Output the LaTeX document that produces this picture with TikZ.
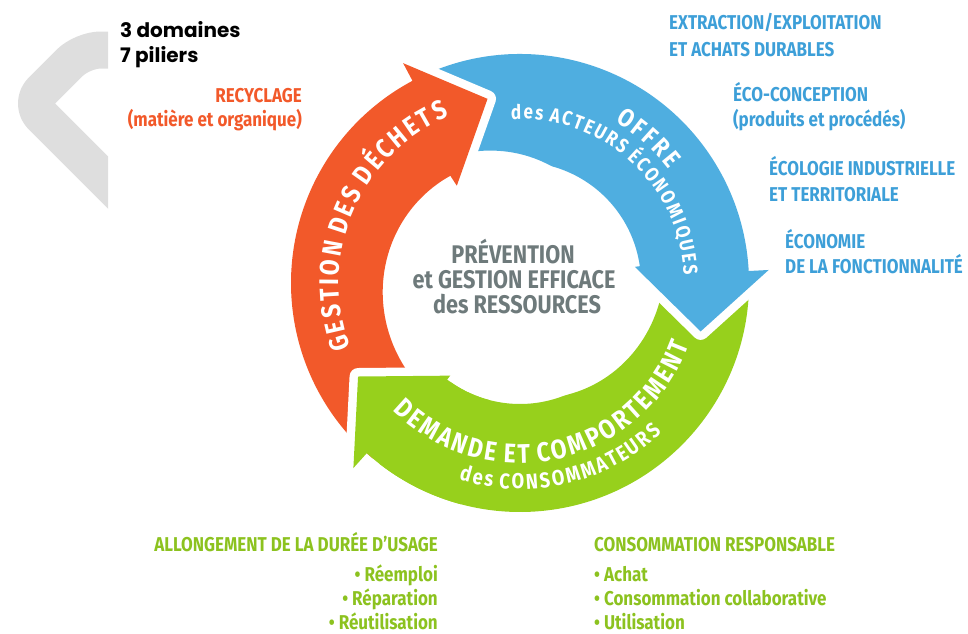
\documentclass[tikz,border=0pt]{standalone}
\usepackage{fontspec}
\usetikzlibrary{decorations.text}
\newfontfamily\cond{Fira Sans}[FakeStretch=0.85]
\newfontfamily\popp{Poppins}
\definecolor{corange}{HTML}{F2592A}
\definecolor{cblue}{HTML}{4FAEE0}
\definecolor{cgreen}{HTML}{97D01C}
\definecolor{tblue}{HTML}{3D9FD8}
\definecolor{tgreen}{HTML}{8CC21F}
\definecolor{tgray}{HTML}{6E7A7B}
\definecolor{chev}{HTML}{DEDEDE}
\newcommand{\ka}{\kern2.7pt}
\newcommand{\kb}{\kern2.6pt}
\newcommand{\kc}{\kern2.0pt}
\newcommand{\kd}{\kern2.55pt}
\newcommand{\ke}{\kern2.2pt}
% #1 tail angle, #2 outer barb angle, #3 inner barb angle, #4 tip angle, #5 decay span
\newcommand{\arrowpath}[5]{(#1:229) arc[start angle=#1, end angle=#2, radius=229] -- (#2:249) -- (#4:187) -- (#3:116) -- plot[domain=#3:#1, samples=60] (\x:{121+24*max(0,1-(#1-\x)/#5)}) -- cycle}
\begin{document}
\begin{tikzpicture}[x=1pt,y=1pt,
  halo/.style={draw=white, fill=white, line width=17pt, line join=round},
  haloline/.style={draw=white, line width=17pt, line join=round},
  lbl/.style={inner sep=0pt, font=\cond\bfseries\fontsize{20}{24}\selectfont},
  olbl/.style={lbl, text=corange, anchor=base east},
  blbl/.style={lbl, text=tblue, anchor=base west},
  glbl/.style={lbl, text=tgreen},
  ctext/.style={inner sep=0pt, anchor=base, text=tgray, font=\cond\bfseries\fontsize{25.5}{28}\selectfont},
  ptext/.style={inner sep=0pt, anchor=base west, text=black, font=\popp\bfseries\fontsize{20}{24}\selectfont}]
\useasboundingbox (0,0) rectangle (968,-633);

% grey chevron
\begin{scope}
  \clip (0,0) rectangle (108,-633);
  \draw[chev, line width=37pt, line join=round, rounded corners=18pt]
    (130,-50) -- (82.5,-50) -- (29,-103.5) -- (135,-209.5);
\end{scope}

\node[ptext] (dom) at (120,-37) {3 domaines};
\node[ptext] (pil) at (120,-62) {7 piliers};

% cycle arrows
\begin{scope}[shift={(520,-283)}]
  \path[halo] \arrowpath{5}{-132}{-127}{-150}{73};
  \fill[cgreen] \arrowpath{5}{-132}{-127}{-150}{73};
  \path[halo] \arrowpath{120}{3}{8}{-15}{45};
  \fill[cblue] \arrowpath{120}{3}{8}{-15}{45};
  \path[halo] \arrowpath{230}{118}{123}{100}{150};
  \fill[corange] \arrowpath{230}{118}{123}{100}{150};
  % green head back on top of the orange tail
  \begin{scope}
    \clip (0,0) -- (190:330) arc[start angle=190, end angle=255, radius=330] -- cycle;
    \path[haloline] (-132:249) -- (-150:187) -- (-127:116);
    \fill[cgreen] \arrowpath{5}{-132}{-127}{-150}{73};
  \end{scope}

  % texts on the arrows
  \path[decorate, decoration={text along path, text color=white, text align=center,
      text={|\cond\bfseries\fontsize{27}{27}\selectfont|{G\ka}{E\ka}{S\ka}{T\ka}{I\ka}{O\ka}{N\ka} {D\ka}{E\ka}{S\ka} {D\ka}{É\ka}{C\ka}{H\ka}{E\ka}{T\ka}{S}}}]
    (212:181) arc[start angle=212, end angle=102, radius=181];
  \path[decorate, decoration={text along path, text color=white, text align=center,
      text={|\cond\bfseries\fontsize{25.5}{25.5}\selectfont|{O\kb}{F\kb}{F\kb}{R\kb}{E}}}]
    (68.5:187) arc[start angle=68.5, end angle=28.5, radius=187];
  \path[decorate, decoration={text along path, text color=white, text align=center,
      text={|\cond\bfseries\fontsize{20}{20}\selectfont|{d\kc}{e\kc}{s\kc} {A\kc}{C\kc}{T\kc}{E\kc}{U\kc}{R\kc}{S\kc} {É\kc}{C\kc}{O\kc}{N\kc}{O\kc}{M\kc}{I\kc}{Q\kc}{U\kc}{E\kc}{S}}}]
    (98:164) arc[start angle=98, end angle=-2, radius=164];
  \path[decorate, decoration={text along path, text color=white, text align=center,
      text={|\cond\bfseries\fontsize{27}{27}\selectfont|{D\kd}{E\kd}{M\kd}{A\kd}{N\kd}{D\kd}{E\kd} {E\kd}{T\kd} {C\kd}{O\kd}{M\kd}{P\kd}{O\kd}{R\kd}{T\kd}{E\kd}{M\kd}{E\kd}{N\kd}{T}}}]
    (217.5:180) arc[start angle=217.5, end angle=347.5, radius=180];
  \path[decorate, decoration={text along path, text color=white, text align=center,
      text={|\cond\bfseries\fontsize{21.5}{21.5}\selectfont|{d\ke}{e\ke}{s\ke} {C\ke}{O\ke}{N\ke}{S\ke}{O\ke}{M\ke}{M\ke}{A\ke}{T\ke}{E\ke}{U\ke}{R\ke}{S}}}]
    (243.1:206) arc[start angle=243.1, end angle=323.1, radius=206];
\end{scope}

% centre
\node[ctext] (c1) at (513,-263) {PRÉVENTION};
\node[ctext] (c2) at (514,-288) {et GESTION EFFICACE};
\node[ctext] (c3) at (517,-313) {des RESSOURCES};

% orange labels
\node[olbl] (rec1) at (302,-102) {RECYCLAGE};
\node[olbl] (rec2) at (302,-126) {(matière et organique)};

% blue labels
\node[blbl] (b1) at (669,-29.5) {EXTRACTION/EXPLOITATION};
\node[blbl] (b2) at (669,-56.7) {ET ACHATS DURABLES};
\node[blbl] (b3) at (733,-101.7) {ÉCO-CONCEPTION};
\node[blbl] (b4) at (733,-126) {(produits et procédés)};
\node[blbl] (b5) at (769,-175) {ÉCOLOGIE INDUSTRIELLE};
\node[blbl] (b6) at (769,-201.7) {ET TERRITORIALE};
\node[blbl] (b7) at (785,-248) {ÉCONOMIE};
\node[blbl] (b8) at (785,-273) {DE LA FONCTIONNALITÉ};

% green labels
\node[glbl, anchor=base east] (g1) at (438,-551) {ALLONGEMENT DE LA DURÉE D’USAGE};
\node[glbl, anchor=base east] (g2) at (438,-581.7) {• Réemploi};
\node[glbl, anchor=base east] (g3) at (438,-605.5) {• Réparation};
\node[glbl, anchor=base east] (g4) at (438,-629.5) {• Réutilisation};
\node[glbl, anchor=base west] (g5) at (594,-551) {CONSOMMATION RESPONSABLE};
\node[glbl, anchor=base west] (g6) at (594,-581.7) {• Achat};
\node[glbl, anchor=base west] (g7) at (594,-605.5) {• Consommation collaborative};
\node[glbl, anchor=base west] (g8) at (594,-629.5) {• Utilisation};
\end{tikzpicture}
\end{document}
